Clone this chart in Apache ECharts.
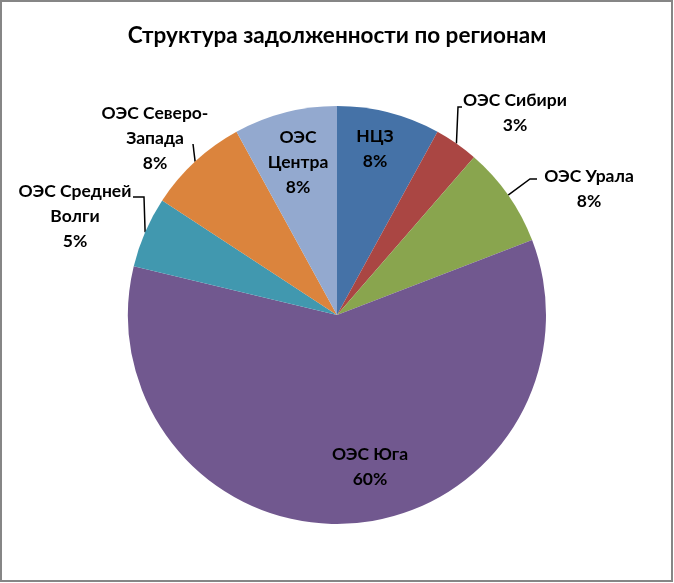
<!DOCTYPE html>
<html>
<head>
<meta charset="utf-8">
<script src="https://cdn.jsdelivr.net/npm/echarts@6/dist/echarts.min.js"></script>
<style>
html,body{margin:0;padding:0;background:#fff;}
#chart{width:674px;height:583px;}
</style>
</head>
<body>
<div id="chart"></div>
<script>
// Data
var categories = ["НЦЗ", "ОЭС Сибири", "ОЭС Урала", "ОЭС Юга", "ОЭС Средней Волги", "ОЭС Северо-Запада", "ОЭС Центра"];
var labelTexts = ["НЦЗ", "ОЭС Сибири", "ОЭС Урала", "ОЭС Юга", "ОЭС Средней\nВолги", "ОЭС Северо-\nЗапада", "ОЭС\nЦентра"];
var values = [8.0, 3.4, 7.8, 59.7, 5.5, 7.8, 8.0];
var colors = ["#4572A7", "#AA4643", "#89A54E", "#71588F", "#4198AF", "#DB843D", "#93A9CF"];
var title = "Структура задолженности по регионам";

// label placement (text centre) and leader-line bends — styling only
var labelPos = {
  0: { x: 375, y: 149 },
  1: { x: 515, y: 113, bend: [[458, 107], [462, 107]] },
  2: { x: 589, y: 189, bend: [[530, 179], [537, 179]] },
  3: { x: 370, y: 467 },
  4: { x: 75,  y: 216, bend: [[144, 197], [133, 197]] },
  5: { x: 155, y: 138, bend: [[193, 144]] },
  6: { x: 298, y: 162 }
};
var outsideIdx = [1, 2, 4, 5];

var FONT = "Lato, 'Open Sans', sans-serif";

var data = categories.map(function (c, i) {
  var out = outsideIdx.indexOf(i) >= 0;
  return {
    name: c,
    value: values[i],
    itemStyle: { color: colors[i] },
    label: { position: out ? 'outside' : 'inside' },
    labelLine: { show: out }
  };
});

var chart = echarts.init(document.getElementById('chart'), null, { renderer: 'canvas' });
chart.setOption({
  backgroundColor: '#ffffff',
  animation: false,
  title: {
    text: title,
    left: 'center',
    top: 19,
    textStyle: { fontFamily: FONT, fontSize: 22.5, fontWeight: 'bold', color: '#000' }
  },
  graphic: [{
    type: 'rect',
    shape: { x: 1, y: 1, width: 671, height: 580 },
    style: { fill: 'none', stroke: '#868686', lineWidth: 2 },
    silent: true
  }],
  series: [{
    type: 'pie',
    center: [337, 315],
    radius: [0, 209],
    startAngle: 90,
    clockwise: true,
    data: data,
    label: {
      formatter: function (p) {
        return labelTexts[p.dataIndex] + '\n' + Math.round(p.percent) + '%';
      },
      fontFamily: FONT,
      fontSize: 17.5,
      fontWeight: 'bold',
      color: '#000',
      lineHeight: 25,
      align: 'center',
      overflow: 'none',
      edgeDistance: 0,
      bleedMargin: 0
    },
    labelLine: {
      length: 18,
      length2: 8,
      lineStyle: { color: '#000', width: 1.5 }
    },
    labelLayout: function (params) {
      var lp = labelPos[params.dataIndex];
      var res = { x: lp.x, y: lp.y, align: 'center', verticalAlign: 'middle' };
      if (lp.bend && params.labelLinePoints) {
        res.labelLinePoints = [params.labelLinePoints[0]].concat(lp.bend);
      }
      return res;
    },
    itemStyle: { borderWidth: 0 }
  }]
});
</script>
</body>
</html>
